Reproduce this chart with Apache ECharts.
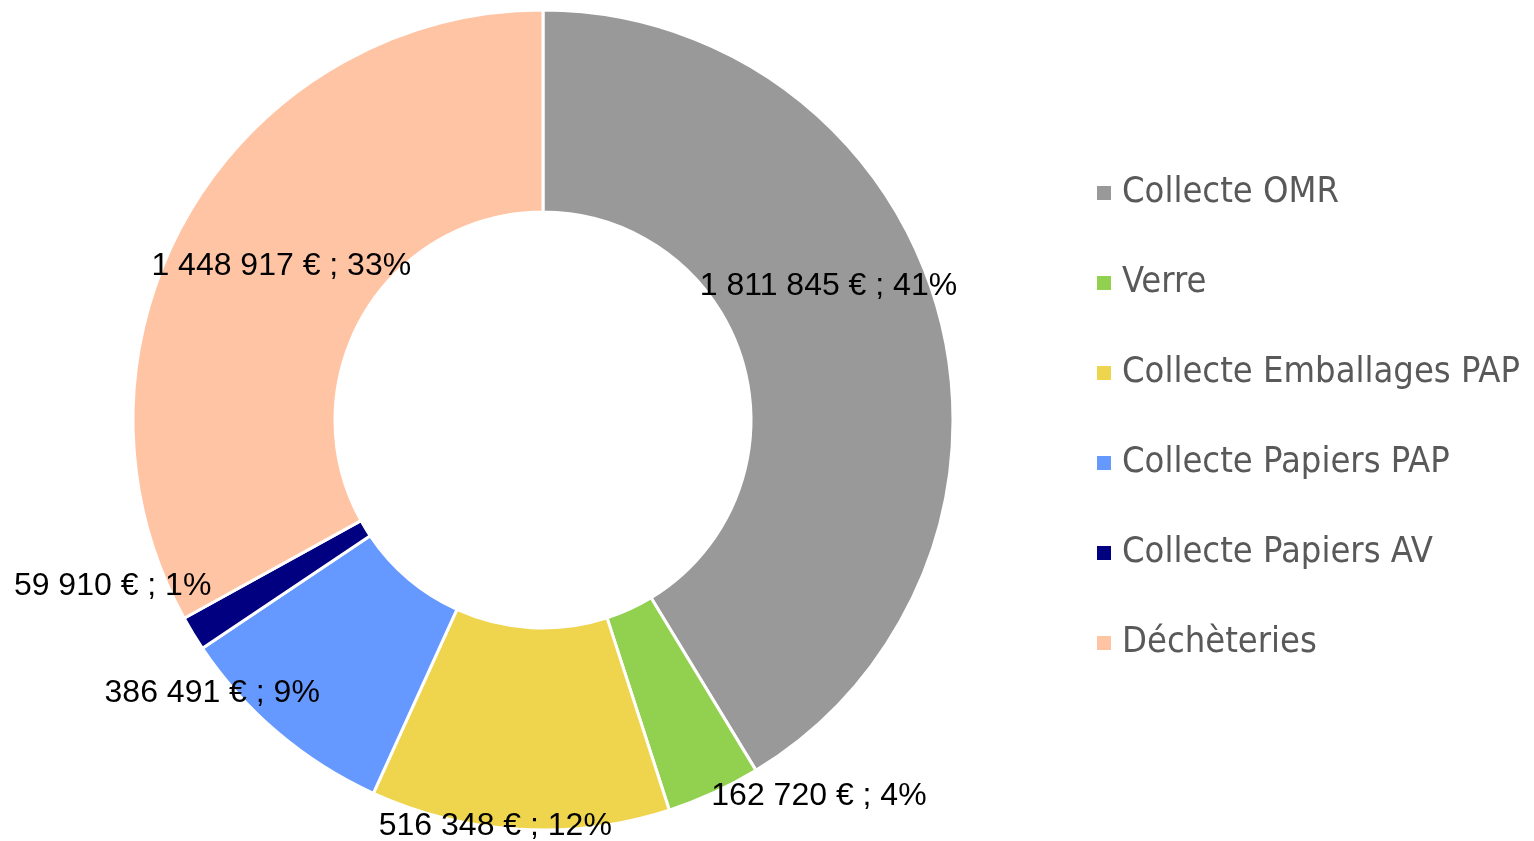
<!DOCTYPE html>
<html>
<head>
<meta charset="utf-8">
<script src="https://cdn.jsdelivr.net/npm/echarts@6/dist/echarts.min.js"></script>
<style>html,body{margin:0;padding:0;background:#fff;}#c{width:1534px;height:841px;}</style>
</head>
<body>
<div id="c"></div>
<script>
var categories = ['Collecte OMR', 'Verre', 'Collecte Emballages PAP', 'Collecte Papiers PAP', 'Collecte Papiers AV', 'Déchèteries'];
var values = [1811845, 162720, 516348, 386491, 59910, 1448917];
var colors = ['#999999', '#92D050', '#EFD54E', '#6699FF', '#000080', '#FFC4A4'];
// label offsets from the ring's mid-radius position (dx, dy)
var labelDx = [-15, 146, -30, -129, -164, 7];
var labelDy = [-50, 93, 95, 35, 4, 5];

function fmt(v) { return String(v).replace(/\B(?=(\d{3})+(?!\d))/g, ' '); }

var chart = echarts.init(document.getElementById('c'));
chart.setOption({
  animation: false,
  color: colors,
  legend: {
    orient: 'vertical',
    left: 1090,
    top: 166,
    icon: 'rect',
    itemWidth: 16,
    itemHeight: 16,
    itemGap: 46,
    data: categories,
    textStyle: { fontFamily: 'DejaVu Sans Condensed', fontSize: 36, color: '#595959', lineHeight: 44, padding: [0, 0, 0, 5] }
  },
  series: [{
    type: 'pie',
    center: [543, 420],
    radius: [208, 410],
    startAngle: 90,
    clockwise: true,
    avoidLabelOverlap: false,
    itemStyle: { borderColor: '#fff', borderWidth: 3 },
    label: {
      show: true,
      position: 'inside',
      color: '#000',
      fontFamily: 'Liberation Sans',
      fontSize: 32,
      formatter: function (p) { return fmt(p.value) + ' € ; ' + Math.round(p.percent) + '%'; }
    },
    labelLine: { show: false },
    labelLayout: function (p) { return { dx: labelDx[p.dataIndex], dy: labelDy[p.dataIndex] }; },
    emphasis: { disabled: true },
    data: categories.map(function (c, i) { return { name: c, value: values[i] }; })
  }]
});
</script>
</body>
</html>
